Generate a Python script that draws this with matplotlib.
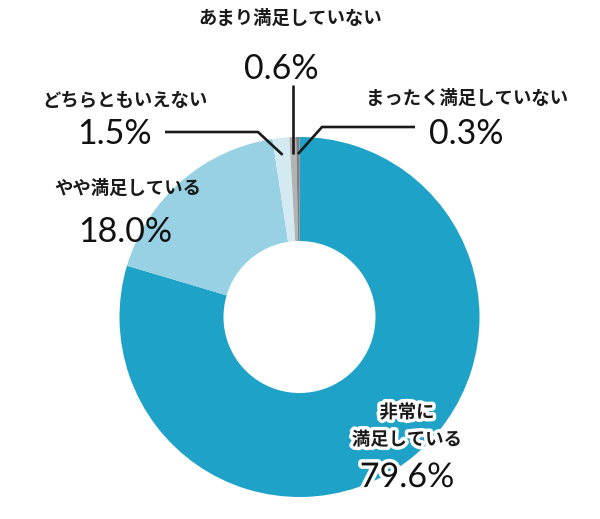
import numpy as np
import matplotlib
matplotlib.use("Agg")
import matplotlib.pyplot as plt
import matplotlib.patheffects as pe

# data
labels = ["非常に\n満足している", "やや満足している", "どちらともいえない",
          "あまり満足していない", "まったく満足していない"]
values = [79.6, 18.0, 1.5, 0.6, 0.3]
value_text = ["79.6%", "18.0%", "1.5%", "0.6%", "0.3%"]
colors = ["#1fa2c8", "#97d1e3", "#d3eaf2", "#b3b3b3", "#7f7f7f"]

W, H = 600, 519
CX, CY = 299.5, 317      # donut centre in pixel coords (y down)
R_OUT, R_IN = 180, 76

def py(y):
    return H - y

plt.rcParams['font.family'] = ['Noto Sans CJK JP', 'DejaVu Sans']

fig = plt.figure(figsize=(W / 100, H / 100), dpi=100)
ax = fig.add_axes([0, 0, 1, 1])

ax.pie(values, colors=colors, startangle=90, counterclock=False,
       radius=R_OUT, center=(CX, py(CY)),
       wedgeprops=dict(width=R_OUT - R_IN, linewidth=0))

# pie() resets the limits, so set them afterwards
ax.set_xlim(0, W)
ax.set_ylim(0, H)
ax.set_aspect('equal')
ax.axis('off')

# anchor points on the small slices (mid angle of each wedge)
cum = np.cumsum([0] + values)
def anchor(i, r=163):
    mid = (cum[i] + cum[i + 1]) / 2 / 100 * 2 * np.pi
    return CX + r * np.sin(mid), CY - r * np.cos(mid)

line_kw = dict(color="#1a1a1a", lw=1.9, solid_capstyle='butt', zorder=5)

# 1.5%
ax_, ay_ = anchor(2)
ax.plot([165, 258, ax_], [py(132), py(132), py(ay_)], **line_kw)
# 0.6%
bx, by = anchor(3)
ax.plot([bx, bx], [py(85), py(by)], **line_kw)
# 0.3%
cx_, cy_ = anchor(4)
ax.plot([415, 322, cx_], [py(127), py(127), py(cy_)], **line_kw)

lab_kw = dict(fontsize=13.2, fontweight='bold', color="#1a1a1a",
              ha='center', va='center')
num_kw = dict(fontsize=24.5, family=['Lato', 'DejaVu Sans'], color="#111111",
              ha='center', va='center')

ax.text(290, py(18), labels[3], **lab_kw)
ax.text(281, py(69), value_text[3], **num_kw)

ax.text(125, py(100), labels[2], **lab_kw)
ax.text(115, py(134), value_text[2], **num_kw)

ax.text(467, py(98), labels[4], **lab_kw)
ax.text(466, py(134), value_text[4], **num_kw)

ax.text(128, py(188), labels[1], **lab_kw)
ax.text(125, py(232), value_text[1], **num_kw)

halo = [pe.withStroke(linewidth=5, foreground='white')]
ax.text(407, py(426), labels[0], linespacing=1.55, path_effects=halo, **lab_kw)
ax.text(407, py(477), value_text[0], path_effects=halo, **num_kw)

fig.savefig("out.png", dpi=100)
